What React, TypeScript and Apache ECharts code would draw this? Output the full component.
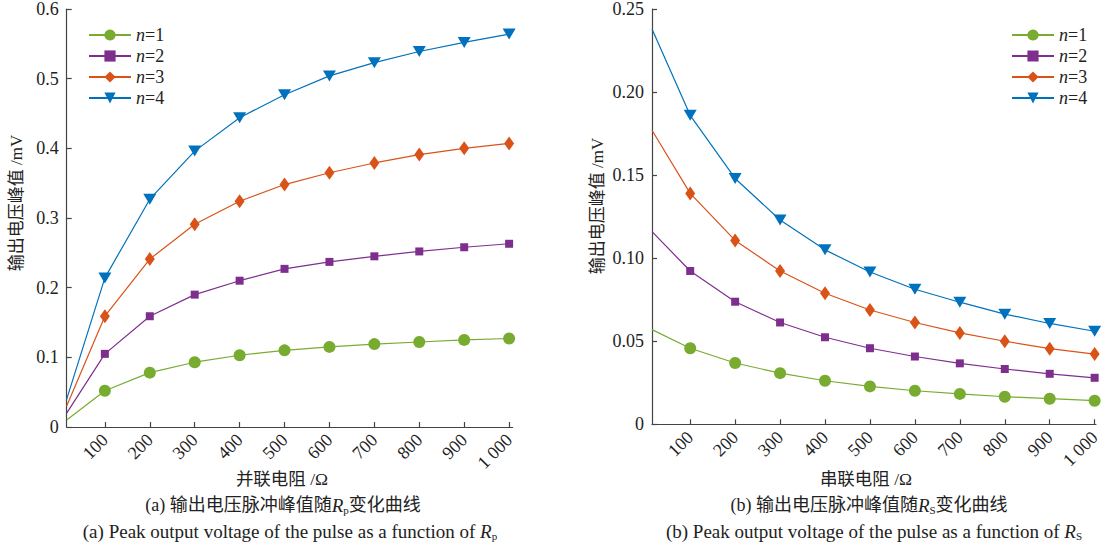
import React, { useEffect, useRef } from "react";
import * as echarts from "echarts";

const xLeft = [15, 100, 200, 300, 400, 500, 600, 700, 800, 900, 1000];
const xRight = [15, 100, 200, 300, 400, 500, 600, 700, 800, 900, 1000];
const tickValues = [100, 200, 300, 400, 500, 600, 700, 800, 900, 1000];
const seriesNames = ["n=1", "n=2", "n=3", "n=4"];

// Left: output peak vs parallel resistance Rp
const leftN1 = [0.01, 0.052, 0.078, 0.093, 0.103, 0.110, 0.115, 0.119, 0.122, 0.125, 0.127];
const leftN2 = [0.02, 0.105, 0.159, 0.190, 0.210, 0.227, 0.237, 0.245, 0.252, 0.258, 0.263];
const leftN3 = [0.03, 0.159, 0.241, 0.291, 0.324, 0.348, 0.365, 0.379, 0.391, 0.400, 0.407];
const leftN4 = [0.04, 0.214, 0.327, 0.396, 0.444, 0.477, 0.504, 0.523, 0.539, 0.552, 0.564];

// Right: output peak vs series resistance Rs
const rightN1 = [0.057, 0.0458, 0.0369, 0.0308, 0.0262, 0.0228, 0.0202, 0.0183, 0.0166, 0.0154, 0.0142];
const rightN2 = [0.116, 0.0923, 0.0738, 0.0613, 0.0524, 0.0458, 0.0408, 0.0367, 0.0333, 0.0304, 0.028];
const rightN3 = [0.177, 0.139, 0.1107, 0.0923, 0.0789, 0.0688, 0.0613, 0.0550, 0.0500, 0.0455, 0.0423];
const rightN4 = [0.238, 0.186, 0.148, 0.123, 0.105, 0.0917, 0.0813, 0.0735, 0.0663, 0.0607, 0.056];

const colors = ["#77AC30", "#7E2F8E", "#D95319", "#0072BD"];
const SERIF = "Liberation Serif, serif";
const CJK = "Liberation Serif, Noto Sans CJK SC, serif";

const markers: any[] = [
  { symbol: "circle", symbolSize: 12, symbolRotate: 0 },
  { symbol: "rect", symbolSize: 8, symbolRotate: 0 },
  { symbol: "diamond", symbolSize: [10, 14], symbolRotate: 0 },
  { symbol: "triangle", symbolSize: [13, 11], symbolRotate: 180 },
];

function zip(xs: number[], ys: number[]) {
  return xs.map((x, i) =>
    i === 0 ? { value: [x, ys[i]], symbol: "none" } : { value: [x, ys[i]] }
  );
}

export default function App() {
  const ref = useRef<HTMLDivElement>(null);
  useEffect(() => {
    if (!ref.current) return;
    const chart = echarts.init(ref.current, undefined, { renderer: "svg" });
    const leftData = [leftN1, leftN2, leftN3, leftN4];
    const rightData = [rightN1, rightN2, rightN3, rightN4];

    const mkSeries = (data: number[][], xs: number[], idx: number) =>
      data.map((ys, i) => ({
        name: seriesNames[i],
        type: "line",
        xAxisIndex: idx,
        yAxisIndex: idx,
        data: zip(xs, ys),
        symbol: markers[i].symbol,
        symbolSize: markers[i].symbolSize,
        symbolRotate: markers[i].symbolRotate,
        showAllSymbol: true,
        lineStyle: { color: colors[i], width: 1.2 },
        itemStyle: { color: colors[i] },
        emphasis: { disabled: true },
        z: 2 + i,
      }));

    const axisLineStyle = { color: "#444", width: 1.2 };
    const mkX = (idx: number, min: number, max: number) => ({
      type: "value",
      gridIndex: idx,
      min,
      max,
      axisLine: { show: true, lineStyle: axisLineStyle },
      axisTick: { show: true, inside: true, length: 5, customValues: tickValues, lineStyle: axisLineStyle },
      axisLabel: {
        customValues: tickValues,
        rotate: 45,
        margin: 10,
        fontFamily: SERIF,
        fontSize: 18,
        color: "#222",
        formatter: (v: number) => (v === 1000 ? "1 000" : String(v)),
      },
      splitLine: { show: false },
    });
    const mkY = (idx: number, max: number, interval: number, digits: number) => ({
      type: "value",
      gridIndex: idx,
      min: 0,
      max,
      interval,
      axisLine: { show: true, lineStyle: axisLineStyle },
      axisTick: { show: true, inside: true, length: 5, lineStyle: axisLineStyle },
      axisLabel: {
        margin: 8,
        fontFamily: SERIF,
        fontSize: 18,
        color: "#222",
        formatter: (v: number) => (v === 0 ? "0" : v.toFixed(digits)),
      },
      splitLine: { show: false },
    });

    const legendRich = {
      i: { fontFamily: SERIF, fontStyle: "italic", fontSize: 18, color: "#222" },
      r: { fontFamily: SERIF, fontSize: 18, color: "#222" },
    };
    const mkLegend = (left: number) => ({
      data: seriesNames,
      orient: "vertical",
      left,
      top: 21,
      itemWidth: 42,
      itemHeight: 14,
      itemGap: 3,
      selectedMode: false,
      formatter: (name: string) => `{i|n}{r|${name.slice(1)}}`,
      textStyle: { rich: legendRich },
    });

    const capRich = {
      t: { fontFamily: CJK, fontSize: 17.5, color: "#222", fontWeight: "normal" },
      a: { fontFamily: CJK, fontSize: 18, color: "#222", fontWeight: "normal" },
      e: { fontFamily: SERIF, fontSize: 19, color: "#222", fontWeight: "normal" },
      i: { fontFamily: SERIF, fontStyle: "italic", fontSize: 19, color: "#222", fontWeight: "normal" },
      s: { fontFamily: SERIF, fontSize: 11, color: "#222", fontWeight: "normal", padding: [9, 0, 0, 0] },
    };

    const mkTitle = (text: string, x: number, y: number) => ({
      text,
      left: x,
      top: y,
      textAlign: "center",
      textStyle: { rich: capRich, fontWeight: "normal" },
      padding: 0,
    });

    chart.setOption({
      animation: false,
      backgroundColor: "#fff",
      grid: [
        { left: 66.7, top: 7, width: 446, height: 420, containLabel: false },
        { left: 652, top: 7.3, width: 444, height: 417, containLabel: false },
      ],
      xAxis: [mkX(0, 15, 1008), mkX(1, 15, 1003)],
      yAxis: [mkY(0, 0.6, 0.1, 1), mkY(1, 0.25, 0.05, 2)],
      legend: [mkLegend(83), mkLegend(1006)],
      title: [
        mkTitle("{t|并联电阻 /Ω}", 282, 470),
        mkTitle("{a|(a) 输出电压脉冲峰值随}{i|R}{s|p}{a|变化曲线}", 283, 495),
        mkTitle("{e|(a) Peak output voltage of the pulse as a function of }{i|R}{s|p}", 290, 521),
        mkTitle("{t|串联电阻 /Ω}", 866, 470),
        mkTitle("{a|(b) 输出电压脉冲峰值随}{i|R}{s|S}{a|变化曲线}", 869, 495),
        mkTitle("{e|(b) Peak output voltage of the pulse as a function of }{i|R}{s|S}", 874, 521),
      ],
      graphic: [
        {
          type: "text",
          x: 16,
          y: 203,
          rotation: Math.PI / 2,
          style: { text: "输出电压峰值 /mV", font: `17px ${CJK}`, fill: "#222", align: "center", verticalAlign: "middle" },
        },
        {
          type: "text",
          x: 597,
          y: 206,
          rotation: Math.PI / 2,
          style: { text: "输出电压峰值 /mV", font: `17px ${CJK}`, fill: "#222", align: "center", verticalAlign: "middle" },
        },
      ],
      series: [...mkSeries(leftData, xLeft, 0), ...mkSeries(rightData, xRight, 1)],
    });
    return () => chart.dispose();
  }, []);
  return (
    <div
      ref={ref}
      style={{ position: "absolute", left: 0, top: 0, width: 1113, height: 548 }}
    />
  );
}
